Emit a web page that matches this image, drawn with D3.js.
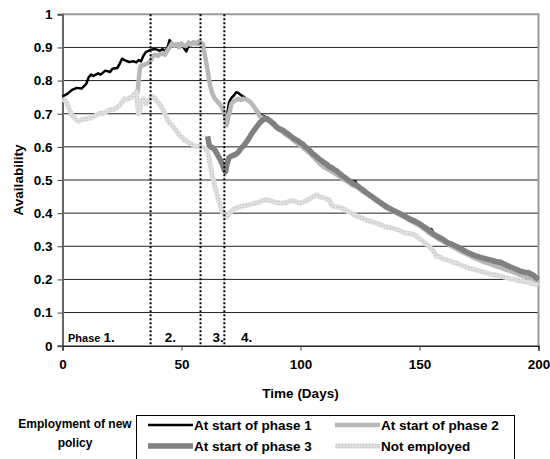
<!DOCTYPE html>
<html>
<head>
<meta charset="utf-8">
<script src="https://cdn.jsdelivr.net/npm/d3@7"></script>
<style>
  body { margin: 0; background: #fff; }
  text { font-family: "Liberation Sans", Arial, sans-serif; font-weight: bold; fill: #000; }
</style>
</head>
<body>
<svg id="availChart" width="550" height="459"></svg>
<script>
// ---- data (day, availability) ----
const startPhase1 = [[0,0.752],[2,0.76],[4,0.772],[6,0.778],[8,0.776],[10,0.79],[11,0.81],[12,0.818],[13,0.814],[15,0.822],[16,0.818],[18,0.83],[20,0.826],[21,0.836],[23,0.838],[24,0.85],[25,0.866],[26,0.862],[28,0.856],[30,0.858],[31,0.855],[32,0.862],[33,0.858],[34,0.875],[35,0.886],[37,0.893],[39,0.895],[41,0.89],[42,0.895],[43,0.89],[44,0.897],[45,0.922],[46,0.912],[47,0.908],[48,0.912],[50,0.908],[51,0.898],[52,0.888],[53,0.905],[55,0.912],[57,0.91],[58,0.915],[59,0.905],[60,0.87],[61,0.83],[62,0.79],[63,0.765],[64,0.745],[65,0.735],[66,0.73],[67,0.715],[68,0.705],[69,0.69],[70,0.735],[71,0.748],[72,0.755],[73,0.765],[74,0.762],[75,0.756],[76,0.752],[77,0.746],[78,0.742],[80,0.728],[81,0.718],[82,0.708],[83,0.698],[84,0.694],[86,0.688],[88,0.678],[90,0.662],[92,0.648],[93,0.64],[95,0.634],[97,0.626],[99,0.618],[101,0.606],[103,0.596],[105,0.58],[107,0.568],[109,0.556],[111,0.548],[113,0.536],[115,0.526],[117,0.514],[119,0.506],[121,0.498],[123,0.496],[124,0.484],[126,0.472],[128,0.46],[130,0.45],[132,0.44],[134,0.43],[136,0.418],[138,0.41],[140,0.404],[142,0.398],[143,0.394],[144,0.388],[146,0.38],[148,0.374],[150,0.366],[152,0.358],[154,0.35],[155,0.352],[156,0.338],[158,0.328],[160,0.318],[162,0.31],[164,0.302],[166,0.296],[168,0.288],[170,0.28],[172,0.274],[174,0.268],[176,0.262],[178,0.258],[180,0.254],[182,0.25],[184,0.246],[186,0.24],[188,0.234],[190,0.228],[192,0.222],[194,0.218],[196,0.212],[198,0.206],[200,0.2]];

const startPhase2 = [[31.5,0.762],[32,0.8],[32.5,0.835],[33,0.845],[34,0.846],[35,0.85],[36,0.852],[37,0.86],[38,0.875],[39,0.878],[40,0.874],[41,0.88],[42,0.882],[43,0.878],[44,0.89],[45,0.9],[46,0.912],[47,0.905],[48,0.91],[49,0.9],[50,0.912],[51,0.906],[52,0.905],[53,0.915],[54,0.908],[55,0.916],[56,0.91],[57,0.918],[58,0.915],[59,0.91],[60,0.87],[61,0.83],[62,0.785],[63,0.76],[64,0.745],[65,0.738],[66,0.73],[67,0.72],[68,0.7],[69,0.665],[70,0.7],[71,0.73],[72,0.738],[73,0.742],[74,0.745],[75,0.742],[76,0.745],[77,0.744],[78,0.74],[79,0.735],[80,0.725],[81,0.715],[82,0.702],[83,0.692],[84,0.688],[85,0.685],[86,0.682],[88,0.67],[90,0.656],[92,0.648],[94,0.636],[96,0.626],[98,0.614],[100,0.604],[102,0.592],[104,0.58],[106,0.565],[108,0.55],[110,0.538],[112,0.53],[114,0.522],[116,0.512],[118,0.502],[120,0.494],[122,0.484],[124,0.478],[126,0.466],[128,0.458],[130,0.448],[132,0.436],[134,0.426],[136,0.416],[138,0.41],[140,0.402],[142,0.394],[144,0.386],[146,0.378],[148,0.37],[150,0.362],[152,0.352],[154,0.34],[156,0.332],[158,0.322],[160,0.314],[162,0.306],[164,0.298],[166,0.29],[168,0.282],[170,0.276],[172,0.268],[174,0.262],[176,0.256],[178,0.25],[180,0.246],[182,0.24],[184,0.236],[186,0.23],[188,0.226],[190,0.22],[192,0.214],[194,0.21],[196,0.204],[198,0.198],[200,0.192]];

const startPhase3 = [[61,0.632],[61.5,0.61],[62,0.6],[63,0.598],[64,0.59],[65,0.578],[66,0.565],[67,0.55],[68,0.53],[68.5,0.525],[69,0.545],[70,0.568],[71,0.572],[72,0.575],[73,0.578],[74,0.585],[75,0.596],[76,0.602],[77,0.612],[78,0.622],[79,0.634],[80,0.645],[81,0.655],[82,0.664],[83,0.674],[84,0.68],[85,0.685],[86,0.684],[87,0.68],[88,0.674],[89,0.668],[90,0.66],[91,0.655],[92,0.652],[93,0.648],[94,0.642],[95,0.638],[96,0.632],[97,0.626],[98,0.622],[99,0.618],[100,0.612],[101,0.608],[102,0.6],[103,0.596],[104,0.588],[105,0.58],[106,0.575],[107,0.568],[108,0.562],[109,0.558],[110,0.552],[111,0.548],[112,0.54],[113,0.538],[114,0.532],[115,0.528],[116,0.522],[117,0.516],[118,0.51],[119,0.506],[120,0.5],[121,0.496],[122,0.49],[123,0.486],[124,0.482],[125,0.476],[126,0.472],[127,0.466],[128,0.46],[129,0.455],[130,0.45],[132,0.44],[134,0.43],[136,0.42],[138,0.412],[140,0.405],[142,0.398],[144,0.39],[146,0.382],[148,0.376],[150,0.368],[152,0.358],[154,0.348],[156,0.336],[158,0.328],[160,0.32],[162,0.31],[164,0.305],[166,0.298],[168,0.29],[170,0.282],[172,0.276],[174,0.27],[176,0.266],[178,0.262],[180,0.258],[182,0.254],[184,0.252],[186,0.245],[188,0.238],[190,0.232],[192,0.226],[194,0.222],[196,0.22],[198,0.212],[199,0.205],[200,0.2]];

const notEmployed = [[0,0.745],[1,0.74],[2,0.73],[3,0.71],[4,0.695],[5,0.688],[6,0.68],[7,0.678],[8,0.682],[10,0.685],[12,0.688],[14,0.695],[16,0.702],[17,0.7],[18,0.705],[20,0.712],[22,0.714],[24,0.725],[25,0.735],[26,0.745],[27,0.742],[28,0.748],[29,0.75],[30,0.758],[31,0.765],[31.5,0.73],[32,0.7],[32.5,0.71],[33,0.735],[34,0.745],[35,0.73],[36,0.735],[37,0.748],[38,0.752],[39,0.745],[40,0.735],[41,0.728],[42,0.715],[43,0.7],[44,0.685],[45,0.672],[46,0.665],[47,0.655],[48,0.648],[49,0.635],[50,0.63],[51,0.622],[52,0.618],[53,0.612],[54,0.61],[55,0.605],[56,0.6],[57,0.602],[58,0.6],[59,0.598],[60,0.595],[61,0.585],[62,0.55],[63,0.51],[64,0.48],[65,0.455],[66,0.43],[67,0.405],[68,0.395],[69,0.388],[70,0.398],[71,0.405],[72,0.412],[74,0.418],[76,0.422],[78,0.425],[80,0.428],[82,0.432],[84,0.438],[86,0.44],[88,0.436],[90,0.432],[92,0.43],[94,0.432],[96,0.438],[98,0.435],[100,0.43],[102,0.436],[104,0.444],[106,0.452],[107,0.455],[108,0.45],[110,0.445],[112,0.44],[113,0.425],[114,0.42],[116,0.418],[118,0.414],[120,0.404],[122,0.398],[124,0.39],[126,0.385],[128,0.378],[130,0.374],[132,0.37],[134,0.364],[136,0.358],[138,0.356],[140,0.352],[142,0.346],[144,0.34],[146,0.338],[148,0.335],[150,0.322],[152,0.312],[154,0.3],[156,0.285],[157,0.27],[158,0.27],[160,0.262],[162,0.258],[164,0.252],[166,0.248],[168,0.242],[170,0.236],[172,0.232],[174,0.228],[176,0.224],[178,0.22],[180,0.216],[182,0.214],[184,0.21],[186,0.206],[188,0.202],[190,0.2],[192,0.196],[194,0.194],[196,0.19],[198,0.186],[200,0.182]];

const xTicks = [0, 50, 100, 150, 200];
const yTicks = [0, 0.1, 0.2, 0.3, 0.4, 0.5, 0.6, 0.7, 0.8, 0.9, 1];
const phaseBounds = [37, 58, 68];
const phaseLabels = [["Phase ", "1.", 2.3], ["", "2.", 43], ["", "3.", 63], ["", "4.", 75]];
const seriesNames = ["At start of phase 1", "At start of phase 2", "At start of phase 3", "Not employed"];
const legendTitle = ["Employment of new", "policy"];

// ---- drawing ----
function drawAvailChart() {

  // plot area in page pixels
  let plot = {left: 62.5, right: 538.5, top: 14.3, bottom: 345.7};
  let fontBig = "13.5px";

  let svg = d3.select("#availChart");

  // light dotted texture for the "not employed" series
  let defs = svg.append("defs");
  let pat = defs.append("pattern")
      .attr("id", "dotTex")
      .attr("patternUnits", "userSpaceOnUse")
      .attr("width", 3).attr("height", 3);
  pat.append("rect").attr("width", 3).attr("height", 3).attr("fill", "#dedede");
  pat.append("rect").attr("width", 1).attr("height", 1).attr("fill", "#c4c4c4");

  let x = d3.scaleLinear().domain([0, 200]).range([plot.left, plot.right]);
  let y = d3.scaleLinear().domain([0, 1]).range([plot.bottom, plot.top]);

  // horizontal grid lines
  svg.append("g")
     .selectAll("line")
     .data(yTicks.filter(d => d > 0 && d < 1))
     .join("line")
     .attr("x1", plot.left).attr("x2", plot.right)
     .attr("y1", d => y(d)).attr("y2", d => y(d))
     .attr("stroke", "#222")
     .attr("stroke-width", 1);

  // plot border top and right (gray)
  svg.append("path")
     .attr("d", "M" + plot.left + "," + y(1) + "H" + x(200) + "V" + y(0))
     .attr("fill", "none")
     .attr("stroke", "#9a9a9a")
     .attr("stroke-width", 2);

  // Y axis
  let yAxis = svg.append("g")
     .attr("transform", "translate(" + plot.left + ",0)")
     .call(d3.axisLeft(y).tickValues(yTicks).tickSize(5).tickPadding(5)
            .tickFormat(d => d3.format("~g")(d)));
  yAxis.select(".domain").attr("stroke", "#666").attr("stroke-width", 2);
  yAxis.selectAll(".tick line").attr("stroke", "#444");
  yAxis.selectAll("text").attr("font-size", fontBig).attr("font-family", "Liberation Sans, Arial, sans-serif");

  // X axis
  let xAxis = svg.append("g")
     .attr("transform", "translate(0," + plot.bottom + ")")
     .call(d3.axisBottom(x).tickValues(xTicks).tickSize(5).tickPadding(9));
  xAxis.select(".domain").attr("stroke", "#222").attr("stroke-width", 1.5);
  xAxis.selectAll(".tick line").attr("stroke", "#444");
  xAxis.selectAll("text").attr("font-size", fontBig).attr("font-family", "Liberation Sans, Arial, sans-serif");

  // axis titles
  svg.append("text")
     .attr("text-anchor", "middle")
     .attr("x", (plot.left + plot.right) / 2)
     .attr("y", 398)
     .attr("font-size", fontBig)
     .text("Time (Days)");

  svg.append("text")
     .attr("text-anchor", "middle")
     .attr("transform", "translate(23,180) rotate(-90)")
     .attr("font-size", fontBig)
     .text("Availability");

  // the series lines, drawn in legend order
  let line = d3.line()
               .x(d => x(d[0]))
               .y(d => y(d[1]));

  let seriesStyle = [
    {data: startPhase1, stroke: "#000000", width: 2.5},
    {data: startPhase2, stroke: "#b8b8b8", width: 4.5},
    {data: startPhase3, stroke: "#808080", width: 5.5},
    {data: notEmployed, stroke: "url(#dotTex)", width: 5}
  ];

  seriesStyle.forEach(s => {
    svg.append("path")
       .datum(s.data)
       .attr("fill", "none")
       .attr("stroke", s.stroke)
       .attr("stroke-width", s.width)
       .attr("stroke-linejoin", "round")
       .attr("d", line);
  });

  // dotted phase boundaries
  svg.append("g")
     .selectAll("line")
     .data(phaseBounds)
     .join("line")
     .attr("x1", d => x(d)).attr("x2", d => x(d))
     .attr("y1", y(1)).attr("y2", y(0))
     .attr("stroke", "#000")
     .attr("stroke-width", 2)
     .attr("stroke-dasharray", "2,2");

  // phase labels
  phaseLabels.forEach(p => {
    let t = svg.append("text")
               .attr("x", x(p[2]))
               .attr("y", 342);
    if (p[0] != "") {
      t.append("tspan").attr("font-size", "11px").text(p[0]);
    }
    t.append("tspan").attr("font-size", fontBig).text(p[1]);
  });

  // legend
  let lg = svg.append("g");
  lg.append("rect")
    .attr("x", 136.5).attr("y", 415.5)
    .attr("width", 378).attr("height", 60)
    .attr("fill", "none")
    .attr("stroke", "#000")
    .attr("stroke-width", 1);

  lg.selectAll("text.title")
    .data(legendTitle)
    .join("text")
    .attr("class", "title")
    .attr("text-anchor", "middle")
    .attr("x", 75)
    .attr("y", (d, i) => 428 + i * 19)
    .attr("font-size", "12px")
    .text(d => d);

  let legendPos = [[148, 425], [335, 425], [148, 446], [335, 446]];
  seriesStyle.forEach((s, i) => {
    let p = legendPos[i];
    lg.append("line")
      .attr("x1", p[0]).attr("x2", p[0] + 45)
      .attr("y1", p[1]).attr("y2", p[1])
      .attr("stroke", s.stroke)
      .attr("stroke-width", s.width);
    lg.append("text")
      .attr("x", p[0] + 46)
      .attr("y", p[1] + 4.5)
      .attr("font-size", fontBig)
      .text(seriesNames[i]);
  });
}

drawAvailChart();
</script>
</body>
</html>
